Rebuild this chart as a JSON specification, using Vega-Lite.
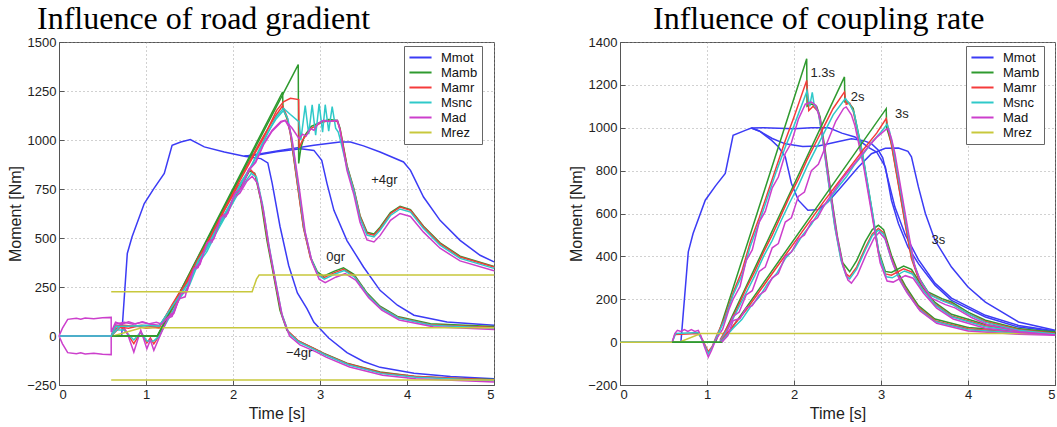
{
"$schema": "https://vega.github.io/schema/vega-lite/v6.json",
"padding": {"left": 7, "top": 2, "right": 0, "bottom": 0},
"config": {
 "font": "Liberation Sans",
 "view": {"stroke": "#555", "strokeWidth": 1},
 "axis": {"labelFont": "Liberation Sans", "labelFontSize": 13, "labelColor": "#222", "titleFont": "Liberation Sans", "titleFontSize": 16, "titleFontWeight": "normal", "titleColor": "#222", "domainColor": "#555", "tickColor": "#555", "tickSize": -5, "labelPadding": 8, "gridColor": "#999", "gridDash": [1, 3], "gridOpacity": 0.9},
 "title": {"font": "Liberation Serif", "fontSize": 32, "fontWeight": "normal", "color": "#000", "anchor": "start", "frame": "group"},
 "legend": {"title": null, "orient": "none", "symbolType": "M-1.7,0H1.7", "symbolSize": 169, "symbolStrokeWidth": 2, "symbolOffset": 5, "labelFontSize": 13, "labelFont": "Liberation Sans", "labelColor": "#111", "fillColor": "white", "strokeColor": "#666", "padding": 4, "rowPadding": 0, "labelOffset": 13},
 "concat": {"spacing": 70}
},
"datasets": {
"road": [
{"c":"m4","s":"Mmot","t":0,"m":0},{"c":"m4","s":"Mmot","t":0.72,"m":0},{"c":"m4","s":"Mmot","t":0.785,"m":421},{"c":"m4","s":"Mmot","t":0.84,"m":506},{"c":"m4","s":"Mmot","t":0.98,"m":676},{"c":"m4","s":"Mmot","t":1.09,"m":752},{"c":"m4","s":"Mmot","t":1.21,"m":829},{"c":"m4","s":"Mmot","t":1.3,"m":973},{"c":"m4","s":"Mmot","t":1.4,"m":990},{"c":"m4","s":"Mmot","t":1.51,"m":1002},{"c":"m4","s":"Mmot","t":1.67,"m":965},{"c":"m4","s":"Mmot","t":1.9,"m":939},{"c":"m4","s":"Mmot","t":2.13,"m":917},{"c":"m4","s":"Mmot","t":2.32,"m":905},{"c":"m4","s":"Mmot","t":2.4,"m":883},{"c":"m4","s":"Mmot","t":2.45,"m":780},{"c":"m4","s":"Mmot","t":2.54,"m":560},{"c":"m4","s":"Mmot","t":2.64,"m":360},{"c":"m4","s":"Mmot","t":2.74,"m":220},{"c":"m4","s":"Mmot","t":2.85,"m":140},{"c":"m4","s":"Mmot","t":2.93,"m":70},{"c":"m4","s":"Mmot","t":3.1,"m":-10},{"c":"m4","s":"Mmot","t":3.31,"m":-85},{"c":"m4","s":"Mmot","t":3.5,"m":-130},{"c":"m4","s":"Mmot","t":3.69,"m":-160},{"c":"m4","s":"Mmot","t":4.08,"m":-190},{"c":"m4","s":"Mmot","t":4.5,"m":-207},{"c":"m4","s":"Mmot","t":5,"m":-218},
{"c":"z","s":"Mmot","t":2.13,"m":917},{"c":"z","s":"Mmot","t":2.3,"m":925},{"c":"z","s":"Mmot","t":2.5,"m":940},{"c":"z","s":"Mmot","t":2.78,"m":955},{"c":"z","s":"Mmot","t":2.93,"m":947},{"c":"z","s":"Mmot","t":3.02,"m":896},{"c":"z","s":"Mmot","t":3.08,"m":779},{"c":"z","s":"Mmot","t":3.16,"m":641},{"c":"z","s":"Mmot","t":3.31,"m":487},{"c":"z","s":"Mmot","t":3.5,"m":352},{"c":"z","s":"Mmot","t":3.69,"m":233},{"c":"z","s":"Mmot","t":3.89,"m":157},{"c":"z","s":"Mmot","t":4.08,"m":106},{"c":"z","s":"Mmot","t":4.46,"m":71},{"c":"z","s":"Mmot","t":5,"m":55},
{"c":"p4","s":"Mmot","t":2.13,"m":917},{"c":"p4","s":"Mmot","t":2.3,"m":928},{"c":"p4","s":"Mmot","t":2.54,"m":947},{"c":"p4","s":"Mmot","t":2.93,"m":973},{"c":"p4","s":"Mmot","t":3.23,"m":990},{"c":"p4","s":"Mmot","t":3.35,"m":990},{"c":"p4","s":"Mmot","t":3.5,"m":970},{"c":"p4","s":"Mmot","t":3.69,"m":939},{"c":"p4","s":"Mmot","t":3.96,"m":888},{"c":"p4","s":"Mmot","t":4.04,"m":845},{"c":"p4","s":"Mmot","t":4.19,"m":709},{"c":"p4","s":"Mmot","t":4.38,"m":590},{"c":"p4","s":"Mmot","t":4.61,"m":488},{"c":"p4","s":"Mmot","t":4.84,"m":412},{"c":"p4","s":"Mmot","t":5,"m":378},
{"c":"m4","s":"Mamb","t":0.6,"m":0},{"c":"m4","s":"Mamb","t":1.13,"m":0},{"c":"m4","s":"Mamb","t":2.19,"m":842},{"c":"m4","s":"Mamb","t":2.25,"m":830},{"c":"m4","s":"Mamb","t":2.32,"m":692},{"c":"m4","s":"Mamb","t":2.39,"m":488},{"c":"m4","s":"Mamb","t":2.47,"m":301},{"c":"m4","s":"Mamb","t":2.54,"m":131},{"c":"m4","s":"Mamb","t":2.62,"m":29},{"c":"m4","s":"Mamb","t":2.74,"m":-22},{"c":"m4","s":"Mamb","t":2.93,"m":-63},{"c":"m4","s":"Mamb","t":3.04,"m":-88},{"c":"m4","s":"Mamb","t":3.31,"m":-139},{"c":"m4","s":"Mamb","t":3.69,"m":-184},{"c":"m4","s":"Mamb","t":4.08,"m":-205},{"c":"m4","s":"Mamb","t":4.5,"m":-215},{"c":"m4","s":"Mamb","t":5,"m":-222},
{"c":"m4","s":"Mamr","t":0.6,"m":0},{"c":"m4","s":"Mamr","t":0.66,"m":40},{"c":"m4","s":"Mamr","t":0.72,"m":45},{"c":"m4","s":"Mamr","t":0.78,"m":15},{"c":"m4","s":"Mamr","t":0.86,"m":-39},{"c":"m4","s":"Mamr","t":0.94,"m":20},{"c":"m4","s":"Mamr","t":1.01,"m":-35},{"c":"m4","s":"Mamr","t":1.05,"m":-10},{"c":"m4","s":"Mamr","t":1.09,"m":-40},{"c":"m4","s":"Mamr","t":1.15,"m":0},{"c":"m4","s":"Mamr","t":1.3,"m":140},{"c":"m4","s":"Mamr","t":1.45,"m":250},{"c":"m4","s":"Mamr","t":1.6,"m":390},{"c":"m4","s":"Mamr","t":1.75,"m":510},{"c":"m4","s":"Mamr","t":1.9,"m":640},{"c":"m4","s":"Mamr","t":2.05,"m":760},{"c":"m4","s":"Mamr","t":2.2,"m":850},{"c":"m4","s":"Mamr","t":2.26,"m":820},{"c":"m4","s":"Mamr","t":2.33,"m":680},{"c":"m4","s":"Mamr","t":2.4,"m":480},{"c":"m4","s":"Mamr","t":2.48,"m":290},{"c":"m4","s":"Mamr","t":2.55,"m":125},{"c":"m4","s":"Mamr","t":2.63,"m":25},{"c":"m4","s":"Mamr","t":2.75,"m":-25},{"c":"m4","s":"Mamr","t":2.94,"m":-66},{"c":"m4","s":"Mamr","t":3.05,"m":-92},{"c":"m4","s":"Mamr","t":3.32,"m":-142},{"c":"m4","s":"Mamr","t":3.7,"m":-187},{"c":"m4","s":"Mamr","t":4.1,"m":-207},{"c":"m4","s":"Mamr","t":5,"m":-224},
{"c":"m4","s":"Msnc","t":0,"m":0},{"c":"m4","s":"Msnc","t":0.6,"m":0},{"c":"m4","s":"Msnc","t":0.66,"m":30},{"c":"m4","s":"Msnc","t":0.75,"m":30},{"c":"m4","s":"Msnc","t":0.86,"m":-20},{"c":"m4","s":"Msnc","t":0.94,"m":20},{"c":"m4","s":"Msnc","t":1.01,"m":-25},{"c":"m4","s":"Msnc","t":1.09,"m":-25},{"c":"m4","s":"Msnc","t":1.15,"m":0},{"c":"m4","s":"Msnc","t":1.3,"m":120},{"c":"m4","s":"Msnc","t":1.4,"m":200},{"c":"m4","s":"Msnc","t":1.5,"m":260},{"c":"m4","s":"Msnc","t":1.6,"m":370},{"c":"m4","s":"Msnc","t":1.7,"m":430},{"c":"m4","s":"Msnc","t":1.8,"m":520},{"c":"m4","s":"Msnc","t":1.9,"m":600},{"c":"m4","s":"Msnc","t":2.0,"m":680},{"c":"m4","s":"Msnc","t":2.1,"m":760},{"c":"m4","s":"Msnc","t":2.21,"m":830},{"c":"m4","s":"Msnc","t":2.27,"m":810},{"c":"m4","s":"Msnc","t":2.34,"m":670},{"c":"m4","s":"Msnc","t":2.41,"m":470},{"c":"m4","s":"Msnc","t":2.49,"m":280},{"c":"m4","s":"Msnc","t":2.56,"m":115},{"c":"m4","s":"Msnc","t":2.64,"m":15},{"c":"m4","s":"Msnc","t":2.76,"m":-32},{"c":"m4","s":"Msnc","t":2.95,"m":-72},{"c":"m4","s":"Msnc","t":3.06,"m":-97},{"c":"m4","s":"Msnc","t":3.33,"m":-148},{"c":"m4","s":"Msnc","t":3.71,"m":-192},{"c":"m4","s":"Msnc","t":4.1,"m":-211},{"c":"m4","s":"Msnc","t":5,"m":-228},
{"c":"m4","s":"Mad","t":0,"m":0},{"c":"m4","s":"Mad","t":0.04,"m":-40},{"c":"m4","s":"Mad","t":0.1,"m":-85},{"c":"m4","s":"Mad","t":0.2,"m":-90},{"c":"m4","s":"Mad","t":0.25,"m":-85},{"c":"m4","s":"Mad","t":0.3,"m":-92},{"c":"m4","s":"Mad","t":0.4,"m":-88},{"c":"m4","s":"Mad","t":0.5,"m":-93},{"c":"m4","s":"Mad","t":0.6,"m":-95},{"c":"m4","s":"Mad","t":0.6,"m":0},{"c":"m4","s":"Mad","t":0.66,"m":50},{"c":"m4","s":"Mad","t":0.72,"m":60},{"c":"m4","s":"Mad","t":0.78,"m":20},{"c":"m4","s":"Mad","t":0.86,"m":-82},{"c":"m4","s":"Mad","t":0.94,"m":30},{"c":"m4","s":"Mad","t":1.01,"m":-65},{"c":"m4","s":"Mad","t":1.05,"m":-20},{"c":"m4","s":"Mad","t":1.09,"m":-73},{"c":"m4","s":"Mad","t":1.15,"m":-10},{"c":"m4","s":"Mad","t":1.25,"m":90},{"c":"m4","s":"Mad","t":1.3,"m":100},{"c":"m4","s":"Mad","t":1.38,"m":190},{"c":"m4","s":"Mad","t":1.45,"m":200},{"c":"m4","s":"Mad","t":1.52,"m":330},{"c":"m4","s":"Mad","t":1.6,"m":350},{"c":"m4","s":"Mad","t":1.68,"m":460},{"c":"m4","s":"Mad","t":1.76,"m":480},{"c":"m4","s":"Mad","t":1.84,"m":590},{"c":"m4","s":"Mad","t":1.92,"m":610},{"c":"m4","s":"Mad","t":2.0,"m":700},{"c":"m4","s":"Mad","t":2.08,"m":730},{"c":"m4","s":"Mad","t":2.16,"m":790},{"c":"m4","s":"Mad","t":2.22,"m":815},{"c":"m4","s":"Mad","t":2.28,"m":780},{"c":"m4","s":"Mad","t":2.35,"m":640},{"c":"m4","s":"Mad","t":2.42,"m":440},{"c":"m4","s":"Mad","t":2.5,"m":250},{"c":"m4","s":"Mad","t":2.57,"m":95},{"c":"m4","s":"Mad","t":2.65,"m":0},{"c":"m4","s":"Mad","t":2.77,"m":-45},{"c":"m4","s":"Mad","t":2.96,"m":-82},{"c":"m4","s":"Mad","t":3.07,"m":-108},{"c":"m4","s":"Mad","t":3.34,"m":-158},{"c":"m4","s":"Mad","t":3.72,"m":-200},{"c":"m4","s":"Mad","t":4.1,"m":-218},{"c":"m4","s":"Mad","t":5,"m":-235},
{"c":"m4","s":"Mrez","t":0.6,"m":-225},{"c":"m4","s":"Mrez","t":5,"m":-225},
{"c":"z","s":"Mamb","t":0.6,"m":0},{"c":"z","s":"Mamb","t":1.13,"m":0},{"c":"z","s":"Mamb","t":2.57,"m":1245},{"c":"z","s":"Mamb","t":2.575,"m":1160},{"c":"z","s":"Mamb","t":2.62,"m":1110},{"c":"z","s":"Mamb","t":2.66,"m":1034},{"c":"z","s":"Mamb","t":2.74,"m":779},{"c":"z","s":"Mamb","t":2.81,"m":556},{"c":"z","s":"Mamb","t":2.89,"m":403},{"c":"z","s":"Mamb","t":2.97,"m":327},{"c":"z","s":"Mamb","t":3.04,"m":305},{"c":"z","s":"Mamb","t":3.16,"m":330},{"c":"z","s":"Mamb","t":3.27,"m":348},{"c":"z","s":"Mamb","t":3.39,"m":315},{"c":"z","s":"Mamb","t":3.54,"m":220},{"c":"z","s":"Mamb","t":3.69,"m":152},{"c":"z","s":"Mamb","t":3.89,"m":100},{"c":"z","s":"Mamb","t":4.27,"m":63},{"c":"z","s":"Mamb","t":5,"m":48},
{"c":"z","s":"Mamr","t":0.6,"m":0},{"c":"z","s":"Mamr","t":0.7,"m":45},{"c":"z","s":"Mamr","t":0.8,"m":40},{"c":"z","s":"Mamr","t":0.9,"m":50},{"c":"z","s":"Mamr","t":1.0,"m":40},{"c":"z","s":"Mamr","t":1.1,"m":45},{"c":"z","s":"Mamr","t":1.15,"m":40},{"c":"z","s":"Mamr","t":1.3,"m":160},{"c":"z","s":"Mamr","t":1.45,"m":270},{"c":"z","s":"Mamr","t":1.6,"m":400},{"c":"z","s":"Mamr","t":1.75,"m":520},{"c":"z","s":"Mamr","t":1.9,"m":650},{"c":"z","s":"Mamr","t":2.05,"m":780},{"c":"z","s":"Mamr","t":2.2,"m":900},{"c":"z","s":"Mamr","t":2.35,"m":1020},{"c":"z","s":"Mamr","t":2.5,"m":1130},{"c":"z","s":"Mamr","t":2.57,"m":1175},{"c":"z","s":"Mamr","t":2.62,"m":1120},{"c":"z","s":"Mamr","t":2.66,"m":1030},{"c":"z","s":"Mamr","t":2.74,"m":775},{"c":"z","s":"Mamr","t":2.81,"m":552},{"c":"z","s":"Mamr","t":2.89,"m":398},{"c":"z","s":"Mamr","t":2.97,"m":318},{"c":"z","s":"Mamr","t":3.04,"m":296},{"c":"z","s":"Mamr","t":3.16,"m":322},{"c":"z","s":"Mamr","t":3.27,"m":340},{"c":"z","s":"Mamr","t":3.39,"m":308},{"c":"z","s":"Mamr","t":3.54,"m":214},{"c":"z","s":"Mamr","t":3.69,"m":147},{"c":"z","s":"Mamr","t":3.89,"m":96},{"c":"z","s":"Mamr","t":4.27,"m":58},{"c":"z","s":"Mamr","t":5,"m":44},
{"c":"z","s":"Msnc","t":0,"m":0},{"c":"z","s":"Msnc","t":0.6,"m":0},{"c":"z","s":"Msnc","t":0.7,"m":50},{"c":"z","s":"Msnc","t":0.9,"m":50},{"c":"z","s":"Msnc","t":1.1,"m":55},{"c":"z","s":"Msnc","t":1.15,"m":50},{"c":"z","s":"Msnc","t":1.3,"m":150},{"c":"z","s":"Msnc","t":1.4,"m":220},{"c":"z","s":"Msnc","t":1.5,"m":280},{"c":"z","s":"Msnc","t":1.6,"m":390},{"c":"z","s":"Msnc","t":1.7,"m":450},{"c":"z","s":"Msnc","t":1.8,"m":540},{"c":"z","s":"Msnc","t":1.9,"m":620},{"c":"z","s":"Msnc","t":2.0,"m":700},{"c":"z","s":"Msnc","t":2.1,"m":790},{"c":"z","s":"Msnc","t":2.2,"m":860},{"c":"z","s":"Msnc","t":2.3,"m":950},{"c":"z","s":"Msnc","t":2.4,"m":1040},{"c":"z","s":"Msnc","t":2.5,"m":1110},{"c":"z","s":"Msnc","t":2.58,"m":1150},{"c":"z","s":"Msnc","t":2.63,"m":1110},{"c":"z","s":"Msnc","t":2.67,"m":1020},{"c":"z","s":"Msnc","t":2.75,"m":770},{"c":"z","s":"Msnc","t":2.82,"m":545},{"c":"z","s":"Msnc","t":2.9,"m":392},{"c":"z","s":"Msnc","t":2.98,"m":310},{"c":"z","s":"Msnc","t":3.05,"m":290},{"c":"z","s":"Msnc","t":3.17,"m":316},{"c":"z","s":"Msnc","t":3.28,"m":334},{"c":"z","s":"Msnc","t":3.4,"m":300},{"c":"z","s":"Msnc","t":3.55,"m":208},{"c":"z","s":"Msnc","t":3.7,"m":142},{"c":"z","s":"Msnc","t":3.9,"m":92},{"c":"z","s":"Msnc","t":4.28,"m":55},{"c":"z","s":"Msnc","t":5,"m":40},
{"c":"z","s":"Mad","t":0,"m":0},{"c":"z","s":"Mad","t":0.6,"m":0},{"c":"z","s":"Mad","t":0.65,"m":60},{"c":"z","s":"Mad","t":0.75,"m":70},{"c":"z","s":"Mad","t":0.85,"m":60},{"c":"z","s":"Mad","t":0.95,"m":70},{"c":"z","s":"Mad","t":1.05,"m":60},{"c":"z","s":"Mad","t":1.15,"m":55},{"c":"z","s":"Mad","t":1.25,"m":100},{"c":"z","s":"Mad","t":1.32,"m":120},{"c":"z","s":"Mad","t":1.4,"m":220},{"c":"z","s":"Mad","t":1.47,"m":230},{"c":"z","s":"Mad","t":1.55,"m":350},{"c":"z","s":"Mad","t":1.62,"m":370},{"c":"z","s":"Mad","t":1.7,"m":480},{"c":"z","s":"Mad","t":1.78,"m":500},{"c":"z","s":"Mad","t":1.86,"m":610},{"c":"z","s":"Mad","t":1.94,"m":630},{"c":"z","s":"Mad","t":2.02,"m":730},{"c":"z","s":"Mad","t":2.1,"m":760},{"c":"z","s":"Mad","t":2.18,"m":850},{"c":"z","s":"Mad","t":2.26,"m":890},{"c":"z","s":"Mad","t":2.35,"m":980},{"c":"z","s":"Mad","t":2.45,"m":1050},{"c":"z","s":"Mad","t":2.55,"m":1095},{"c":"z","s":"Mad","t":2.6,"m":1100},{"c":"z","s":"Mad","t":2.65,"m":1060},{"c":"z","s":"Mad","t":2.68,"m":1000},{"c":"z","s":"Mad","t":2.76,"m":760},{"c":"z","s":"Mad","t":2.83,"m":530},{"c":"z","s":"Mad","t":2.91,"m":375},{"c":"z","s":"Mad","t":2.99,"m":290},{"c":"z","s":"Mad","t":3.06,"m":272},{"c":"z","s":"Mad","t":3.18,"m":300},{"c":"z","s":"Mad","t":3.29,"m":318},{"c":"z","s":"Mad","t":3.41,"m":285},{"c":"z","s":"Mad","t":3.56,"m":195},{"c":"z","s":"Mad","t":3.71,"m":132},{"c":"z","s":"Mad","t":3.91,"m":82},{"c":"z","s":"Mad","t":4.3,"m":47},{"c":"z","s":"Mad","t":5,"m":33},
{"c":"z","s":"Mrez","t":0.62,"m":0},{"c":"z","s":"Mrez","t":0.95,"m":42},{"c":"z","s":"Mrez","t":5,"m":42},
{"c":"p4","s":"Mamb","t":0.6,"m":0},{"c":"p4","s":"Mamb","t":1.13,"m":0},{"c":"p4","s":"Mamb","t":2.75,"m":1385},{"c":"p4","s":"Mamb","t":2.755,"m":880},{"c":"p4","s":"Mamb","t":2.78,"m":960},{"c":"p4","s":"Mamb","t":2.82,"m":1020},{"c":"p4","s":"Mamb","t":2.9,"m":1070},{"c":"p4","s":"Mamb","t":3.0,"m":1090},{"c":"p4","s":"Mamb","t":3.1,"m":1105},{"c":"p4","s":"Mamb","t":3.2,"m":1100},{"c":"p4","s":"Mamb","t":3.23,"m":1060},{"c":"p4","s":"Mamb","t":3.31,"m":870},{"c":"p4","s":"Mamb","t":3.39,"m":750},{"c":"p4","s":"Mamb","t":3.46,"m":615},{"c":"p4","s":"Mamb","t":3.54,"m":530},{"c":"p4","s":"Mamb","t":3.62,"m":520},{"c":"p4","s":"Mamb","t":3.69,"m":555},{"c":"p4","s":"Mamb","t":3.81,"m":630},{"c":"p4","s":"Mamb","t":3.92,"m":662},{"c":"p4","s":"Mamb","t":4.04,"m":645},{"c":"p4","s":"Mamb","t":4.19,"m":560},{"c":"p4","s":"Mamb","t":4.38,"m":475},{"c":"p4","s":"Mamb","t":4.61,"m":407},{"c":"p4","s":"Mamb","t":5,"m":355},
{"c":"p4","s":"Mamr","t":0.6,"m":0},{"c":"p4","s":"Mamr","t":0.65,"m":50},{"c":"p4","s":"Mamr","t":0.75,"m":55},{"c":"p4","s":"Mamr","t":0.85,"m":50},{"c":"p4","s":"Mamr","t":0.95,"m":55},{"c":"p4","s":"Mamr","t":1.05,"m":50},{"c":"p4","s":"Mamr","t":1.15,"m":45},{"c":"p4","s":"Mamr","t":1.3,"m":155},{"c":"p4","s":"Mamr","t":1.45,"m":265},{"c":"p4","s":"Mamr","t":1.6,"m":395},{"c":"p4","s":"Mamr","t":1.75,"m":515},{"c":"p4","s":"Mamr","t":1.9,"m":645},{"c":"p4","s":"Mamr","t":2.05,"m":770},{"c":"p4","s":"Mamr","t":2.2,"m":890},{"c":"p4","s":"Mamr","t":2.35,"m":1010},{"c":"p4","s":"Mamr","t":2.5,"m":1150},{"c":"p4","s":"Mamr","t":2.58,"m":1195},{"c":"p4","s":"Mamr","t":2.66,"m":1213},{"c":"p4","s":"Mamr","t":2.755,"m":1206},{"c":"p4","s":"Mamr","t":2.76,"m":960},{"c":"p4","s":"Mamr","t":2.8,"m":1000},{"c":"p4","s":"Mamr","t":2.9,"m":1060},{"c":"p4","s":"Mamr","t":3.0,"m":1085},{"c":"p4","s":"Mamr","t":3.1,"m":1100},{"c":"p4","s":"Mamr","t":3.2,"m":1095},{"c":"p4","s":"Mamr","t":3.23,"m":1055},{"c":"p4","s":"Mamr","t":3.31,"m":865},{"c":"p4","s":"Mamr","t":3.39,"m":745},{"c":"p4","s":"Mamr","t":3.46,"m":610},{"c":"p4","s":"Mamr","t":3.54,"m":524},{"c":"p4","s":"Mamr","t":3.62,"m":514},{"c":"p4","s":"Mamr","t":3.69,"m":548},{"c":"p4","s":"Mamr","t":3.81,"m":624},{"c":"p4","s":"Mamr","t":3.92,"m":658},{"c":"p4","s":"Mamr","t":4.04,"m":641},{"c":"p4","s":"Mamr","t":4.19,"m":556},{"c":"p4","s":"Mamr","t":4.38,"m":471},{"c":"p4","s":"Mamr","t":4.61,"m":403},{"c":"p4","s":"Mamr","t":5,"m":352},
{"c":"p4","s":"Msnc","t":0,"m":0},{"c":"p4","s":"Msnc","t":0.6,"m":0},{"c":"p4","s":"Msnc","t":0.65,"m":50},{"c":"p4","s":"Msnc","t":0.8,"m":50},{"c":"p4","s":"Msnc","t":1.0,"m":55},{"c":"p4","s":"Msnc","t":1.15,"m":50},{"c":"p4","s":"Msnc","t":1.3,"m":150},{"c":"p4","s":"Msnc","t":1.4,"m":215},{"c":"p4","s":"Msnc","t":1.5,"m":275},{"c":"p4","s":"Msnc","t":1.6,"m":385},{"c":"p4","s":"Msnc","t":1.7,"m":445},{"c":"p4","s":"Msnc","t":1.8,"m":535},{"c":"p4","s":"Msnc","t":1.9,"m":615},{"c":"p4","s":"Msnc","t":2.0,"m":695},{"c":"p4","s":"Msnc","t":2.1,"m":785},{"c":"p4","s":"Msnc","t":2.2,"m":855},{"c":"p4","s":"Msnc","t":2.3,"m":945},{"c":"p4","s":"Msnc","t":2.4,"m":1035},{"c":"p4","s":"Msnc","t":2.5,"m":1120},{"c":"p4","s":"Msnc","t":2.58,"m":1162},{"c":"p4","s":"Msnc","t":2.66,"m":1130},{"c":"p4","s":"Msnc","t":2.76,"m":1092},{"c":"p4","s":"Msnc","t":2.78,"m":1000},{"c":"p4","s":"Msnc","t":2.83,"m":1175},{"c":"p4","s":"Msnc","t":2.87,"m":1030},{"c":"p4","s":"Msnc","t":2.91,"m":1180},{"c":"p4","s":"Msnc","t":2.95,"m":1025},{"c":"p4","s":"Msnc","t":2.99,"m":1185},{"c":"p4","s":"Msnc","t":3.03,"m":1040},{"c":"p4","s":"Msnc","t":3.06,"m":1180},{"c":"p4","s":"Msnc","t":3.1,"m":1045},{"c":"p4","s":"Msnc","t":3.14,"m":1170},{"c":"p4","s":"Msnc","t":3.18,"m":1060},{"c":"p4","s":"Msnc","t":3.21,"m":1040},{"c":"p4","s":"Msnc","t":3.24,"m":990},{"c":"p4","s":"Msnc","t":3.31,"m":860},{"c":"p4","s":"Msnc","t":3.39,"m":740},{"c":"p4","s":"Msnc","t":3.46,"m":600},{"c":"p4","s":"Msnc","t":3.54,"m":515},{"c":"p4","s":"Msnc","t":3.62,"m":505},{"c":"p4","s":"Msnc","t":3.69,"m":540},{"c":"p4","s":"Msnc","t":3.81,"m":615},{"c":"p4","s":"Msnc","t":3.92,"m":648},{"c":"p4","s":"Msnc","t":4.04,"m":632},{"c":"p4","s":"Msnc","t":4.19,"m":548},{"c":"p4","s":"Msnc","t":4.38,"m":463},{"c":"p4","s":"Msnc","t":4.61,"m":396},{"c":"p4","s":"Msnc","t":5,"m":345},
{"c":"p4","s":"Mad","t":0,"m":0},{"c":"p4","s":"Mad","t":0.04,"m":40},{"c":"p4","s":"Mad","t":0.1,"m":85},{"c":"p4","s":"Mad","t":0.2,"m":90},{"c":"p4","s":"Mad","t":0.25,"m":86},{"c":"p4","s":"Mad","t":0.3,"m":92},{"c":"p4","s":"Mad","t":0.4,"m":88},{"c":"p4","s":"Mad","t":0.5,"m":93},{"c":"p4","s":"Mad","t":0.6,"m":95},{"c":"p4","s":"Mad","t":0.6,"m":20},{"c":"p4","s":"Mad","t":0.65,"m":70},{"c":"p4","s":"Mad","t":0.72,"m":60},{"c":"p4","s":"Mad","t":0.8,"m":72},{"c":"p4","s":"Mad","t":0.88,"m":62},{"c":"p4","s":"Mad","t":0.96,"m":72},{"c":"p4","s":"Mad","t":1.04,"m":62},{"c":"p4","s":"Mad","t":1.12,"m":70},{"c":"p4","s":"Mad","t":1.18,"m":60},{"c":"p4","s":"Mad","t":1.25,"m":95},{"c":"p4","s":"Mad","t":1.32,"m":115},{"c":"p4","s":"Mad","t":1.4,"m":215},{"c":"p4","s":"Mad","t":1.47,"m":225},{"c":"p4","s":"Mad","t":1.55,"m":345},{"c":"p4","s":"Mad","t":1.62,"m":365},{"c":"p4","s":"Mad","t":1.7,"m":475},{"c":"p4","s":"Mad","t":1.78,"m":495},{"c":"p4","s":"Mad","t":1.86,"m":605},{"c":"p4","s":"Mad","t":1.94,"m":625},{"c":"p4","s":"Mad","t":2.02,"m":725},{"c":"p4","s":"Mad","t":2.1,"m":755},{"c":"p4","s":"Mad","t":2.18,"m":845},{"c":"p4","s":"Mad","t":2.26,"m":885},{"c":"p4","s":"Mad","t":2.35,"m":975},{"c":"p4","s":"Mad","t":2.45,"m":1045},{"c":"p4","s":"Mad","t":2.55,"m":1090},{"c":"p4","s":"Mad","t":2.6,"m":1100},{"c":"p4","s":"Mad","t":2.68,"m":1060},{"c":"p4","s":"Mad","t":2.76,"m":1007},{"c":"p4","s":"Mad","t":2.8,"m":1030},{"c":"p4","s":"Mad","t":2.84,"m":1020},{"c":"p4","s":"Mad","t":2.89,"m":1058},{"c":"p4","s":"Mad","t":2.93,"m":1050},{"c":"p4","s":"Mad","t":2.98,"m":1085},{"c":"p4","s":"Mad","t":3.04,"m":1100},{"c":"p4","s":"Mad","t":3.1,"m":1095},{"c":"p4","s":"Mad","t":3.2,"m":1100},{"c":"p4","s":"Mad","t":3.23,"m":1050},{"c":"p4","s":"Mad","t":3.31,"m":845},{"c":"p4","s":"Mad","t":3.39,"m":720},{"c":"p4","s":"Mad","t":3.46,"m":580},{"c":"p4","s":"Mad","t":3.54,"m":490},{"c":"p4","s":"Mad","t":3.62,"m":480},{"c":"p4","s":"Mad","t":3.69,"m":512},{"c":"p4","s":"Mad","t":3.81,"m":590},{"c":"p4","s":"Mad","t":3.92,"m":625},{"c":"p4","s":"Mad","t":4.04,"m":610},{"c":"p4","s":"Mad","t":4.19,"m":530},{"c":"p4","s":"Mad","t":4.38,"m":448},{"c":"p4","s":"Mad","t":4.61,"m":383},{"c":"p4","s":"Mad","t":5,"m":333},
{"c":"p4","s":"Mrez","t":0.6,"m":226},{"c":"p4","s":"Mrez","t":2.22,"m":226},{"c":"p4","s":"Mrez","t":2.27,"m":290},{"c":"p4","s":"Mrez","t":2.3,"m":311},{"c":"p4","s":"Mrez","t":5,"m":311}
],
"coup": [
{"c":"a","s":"Mmot","t":0,"m":0},{"c":"a","s":"Mmot","t":0.7,"m":0},{"c":"a","s":"Mmot","t":0.785,"m":421},{"c":"a","s":"Mmot","t":0.84,"m":507},{"c":"a","s":"Mmot","t":0.98,"m":662},{"c":"a","s":"Mmot","t":1.1,"m":730},{"c":"a","s":"Mmot","t":1.21,"m":787},{"c":"a","s":"Mmot","t":1.3,"m":965},{"c":"a","s":"Mmot","t":1.44,"m":988},{"c":"a","s":"Mmot","t":1.51,"m":999},{"c":"a","s":"Mmot","t":1.65,"m":1000},{"c":"a","s":"Mmot","t":2.0,"m":995},{"c":"a","s":"Mmot","t":2.2,"m":1000},{"c":"a","s":"Mmot","t":2.4,"m":1000},{"c":"a","s":"Mmot","t":2.55,"m":975},{"c":"a","s":"Mmot","t":2.7,"m":957},{"c":"a","s":"Mmot","t":2.85,"m":910},{"c":"a","s":"Mmot","t":2.95,"m":887},{"c":"a","s":"Mmot","t":3.05,"m":817},{"c":"a","s":"Mmot","t":3.12,"m":662},{"c":"a","s":"Mmot","t":3.2,"m":553},{"c":"a","s":"Mmot","t":3.31,"m":444},{"c":"a","s":"Mmot","t":3.43,"m":366},{"c":"a","s":"Mmot","t":3.62,"m":265},{"c":"a","s":"Mmot","t":3.81,"m":195},{"c":"a","s":"Mmot","t":4.2,"m":117},{"c":"a","s":"Mmot","t":4.58,"m":70},{"c":"a","s":"Mmot","t":5,"m":50},
{"c":"b","s":"Mmot","t":1.51,"m":999},{"c":"b","s":"Mmot","t":1.6,"m":985},{"c":"b","s":"Mmot","t":1.75,"m":950},{"c":"b","s":"Mmot","t":1.9,"m":925},{"c":"b","s":"Mmot","t":2.1,"m":912},{"c":"b","s":"Mmot","t":2.28,"m":915},{"c":"b","s":"Mmot","t":2.5,"m":935},{"c":"b","s":"Mmot","t":2.66,"m":949},{"c":"b","s":"Mmot","t":2.8,"m":940},{"c":"b","s":"Mmot","t":2.89,"m":926},{"c":"b","s":"Mmot","t":2.97,"m":895},{"c":"b","s":"Mmot","t":3.02,"m":860},{"c":"b","s":"Mmot","t":3.08,"m":760},{"c":"b","s":"Mmot","t":3.16,"m":630},{"c":"b","s":"Mmot","t":3.28,"m":500},{"c":"b","s":"Mmot","t":3.43,"m":385},{"c":"b","s":"Mmot","t":3.62,"m":275},{"c":"b","s":"Mmot","t":3.81,"m":205},{"c":"b","s":"Mmot","t":4.2,"m":125},{"c":"b","s":"Mmot","t":4.58,"m":78},{"c":"b","s":"Mmot","t":5,"m":52},
{"c":"c","s":"Mmot","t":1.51,"m":999},{"c":"c","s":"Mmot","t":1.6,"m":985},{"c":"c","s":"Mmot","t":1.74,"m":942},{"c":"c","s":"Mmot","t":1.82,"m":911},{"c":"c","s":"Mmot","t":1.9,"m":864},{"c":"c","s":"Mmot","t":1.97,"m":741},{"c":"c","s":"Mmot","t":2.05,"m":662},{"c":"c","s":"Mmot","t":2.16,"m":615},{"c":"c","s":"Mmot","t":2.28,"m":618},{"c":"c","s":"Mmot","t":2.39,"m":654},{"c":"c","s":"Mmot","t":2.51,"m":708},{"c":"c","s":"Mmot","t":2.74,"m":817},{"c":"c","s":"Mmot","t":2.89,"m":879},{"c":"c","s":"Mmot","t":3.05,"m":904},{"c":"c","s":"Mmot","t":3.2,"m":905},{"c":"c","s":"Mmot","t":3.31,"m":890},{"c":"c","s":"Mmot","t":3.35,"m":864},{"c":"c","s":"Mmot","t":3.43,"m":724},{"c":"c","s":"Mmot","t":3.51,"m":600},{"c":"c","s":"Mmot","t":3.62,"m":475},{"c":"c","s":"Mmot","t":3.81,"m":350},{"c":"c","s":"Mmot","t":4.0,"m":257},{"c":"c","s":"Mmot","t":4.2,"m":187},{"c":"c","s":"Mmot","t":4.58,"m":94},{"c":"c","s":"Mmot","t":5,"m":55},
{"c":"a","s":"Mamb","t":0.6,"m":0},{"c":"a","s":"Mamb","t":1.1,"m":0},{"c":"a","s":"Mamb","t":2.146,"m":1322},{"c":"a","s":"Mamb","t":2.15,"m":1100},{"c":"a","s":"Mamb","t":2.2,"m":1110},{"c":"a","s":"Mamb","t":2.26,"m":1100},{"c":"a","s":"Mamb","t":2.3,"m":1050},{"c":"a","s":"Mamb","t":2.36,"m":890},{"c":"a","s":"Mamb","t":2.43,"m":680},{"c":"a","s":"Mamb","t":2.5,"m":490},{"c":"a","s":"Mamb","t":2.56,"m":370},{"c":"a","s":"Mamb","t":2.64,"m":328},{"c":"a","s":"Mamb","t":2.72,"m":380},{"c":"a","s":"Mamb","t":2.82,"m":470},{"c":"a","s":"Mamb","t":2.9,"m":525},{"c":"a","s":"Mamb","t":2.97,"m":545},{"c":"a","s":"Mamb","t":3.03,"m":525},{"c":"a","s":"Mamb","t":3.12,"m":405},{"c":"a","s":"Mamb","t":3.2,"m":322},{"c":"a","s":"Mamb","t":3.28,"m":262},{"c":"a","s":"Mamb","t":3.43,"m":170},{"c":"a","s":"Mamb","t":3.62,"m":108},{"c":"a","s":"Mamb","t":4.0,"m":68},{"c":"a","s":"Mamb","t":4.58,"m":50},{"c":"a","s":"Mamb","t":5,"m":45},
{"c":"a","s":"Mamr","t":0.6,"m":0},{"c":"a","s":"Mamr","t":0.63,"m":35},{"c":"a","s":"Mamr","t":0.9,"m":40},{"c":"a","s":"Mamr","t":0.95,"m":10},{"c":"a","s":"Mamr","t":1.015,"m":-45},{"c":"a","s":"Mamr","t":1.06,"m":-20},{"c":"a","s":"Mamr","t":1.1,"m":20},{"c":"a","s":"Mamr","t":1.2,"m":110},{"c":"a","s":"Mamr","t":1.3,"m":230},{"c":"a","s":"Mamr","t":1.4,"m":330},{"c":"a","s":"Mamr","t":1.5,"m":470},{"c":"a","s":"Mamr","t":1.6,"m":580},{"c":"a","s":"Mamr","t":1.7,"m":700},{"c":"a","s":"Mamr","t":1.8,"m":820},{"c":"a","s":"Mamr","t":1.9,"m":940},{"c":"a","s":"Mamr","t":2.0,"m":1050},{"c":"a","s":"Mamr","t":2.146,"m":1221},{"c":"a","s":"Mamr","t":2.17,"m":1080},{"c":"a","s":"Mamr","t":2.22,"m":1100},{"c":"a","s":"Mamr","t":2.28,"m":1075},{"c":"a","s":"Mamr","t":2.33,"m":950},{"c":"a","s":"Mamr","t":2.4,"m":740},{"c":"a","s":"Mamr","t":2.47,"m":540},{"c":"a","s":"Mamr","t":2.54,"m":390},{"c":"a","s":"Mamr","t":2.6,"m":318},{"c":"a","s":"Mamr","t":2.64,"m":305},{"c":"a","s":"Mamr","t":2.72,"m":350},{"c":"a","s":"Mamr","t":2.82,"m":440},{"c":"a","s":"Mamr","t":2.9,"m":505},{"c":"a","s":"Mamr","t":2.97,"m":530},{"c":"a","s":"Mamr","t":3.03,"m":510},{"c":"a","s":"Mamr","t":3.12,"m":392},{"c":"a","s":"Mamr","t":3.2,"m":312},{"c":"a","s":"Mamr","t":3.28,"m":252},{"c":"a","s":"Mamr","t":3.43,"m":162},{"c":"a","s":"Mamr","t":3.62,"m":100},{"c":"a","s":"Mamr","t":4.0,"m":62},{"c":"a","s":"Mamr","t":4.58,"m":45},{"c":"a","s":"Mamr","t":5,"m":40},
{"c":"a","s":"Msnc","t":0,"m":0},{"c":"a","s":"Msnc","t":0.6,"m":0},{"c":"a","s":"Msnc","t":0.64,"m":40},{"c":"a","s":"Msnc","t":0.9,"m":45},{"c":"a","s":"Msnc","t":0.95,"m":5},{"c":"a","s":"Msnc","t":1.015,"m":-55},{"c":"a","s":"Msnc","t":1.06,"m":-25},{"c":"a","s":"Msnc","t":1.1,"m":15},{"c":"a","s":"Msnc","t":1.2,"m":100},{"c":"a","s":"Msnc","t":1.3,"m":220},{"c":"a","s":"Msnc","t":1.4,"m":310},{"c":"a","s":"Msnc","t":1.5,"m":450},{"c":"a","s":"Msnc","t":1.6,"m":560},{"c":"a","s":"Msnc","t":1.7,"m":680},{"c":"a","s":"Msnc","t":1.8,"m":800},{"c":"a","s":"Msnc","t":1.9,"m":910},{"c":"a","s":"Msnc","t":2.0,"m":1010},{"c":"a","s":"Msnc","t":2.15,"m":1172},{"c":"a","s":"Msnc","t":2.18,"m":1100},{"c":"a","s":"Msnc","t":2.21,"m":1165},{"c":"a","s":"Msnc","t":2.23,"m":1110},{"c":"a","s":"Msnc","t":2.28,"m":1072},{"c":"a","s":"Msnc","t":2.33,"m":945},{"c":"a","s":"Msnc","t":2.4,"m":735},{"c":"a","s":"Msnc","t":2.47,"m":535},{"c":"a","s":"Msnc","t":2.54,"m":382},{"c":"a","s":"Msnc","t":2.6,"m":308},{"c":"a","s":"Msnc","t":2.64,"m":295},{"c":"a","s":"Msnc","t":2.72,"m":340},{"c":"a","s":"Msnc","t":2.82,"m":430},{"c":"a","s":"Msnc","t":2.9,"m":497},{"c":"a","s":"Msnc","t":2.97,"m":522},{"c":"a","s":"Msnc","t":3.03,"m":503},{"c":"a","s":"Msnc","t":3.12,"m":385},{"c":"a","s":"Msnc","t":3.2,"m":305},{"c":"a","s":"Msnc","t":3.28,"m":246},{"c":"a","s":"Msnc","t":3.43,"m":157},{"c":"a","s":"Msnc","t":3.62,"m":96},{"c":"a","s":"Msnc","t":4.0,"m":58},{"c":"a","s":"Msnc","t":4.58,"m":42},{"c":"a","s":"Msnc","t":5,"m":37},
{"c":"a","s":"Mad","t":0.6,"m":0},{"c":"a","s":"Mad","t":0.63,"m":40},{"c":"a","s":"Mad","t":0.66,"m":55},{"c":"a","s":"Mad","t":0.7,"m":50},{"c":"a","s":"Mad","t":0.74,"m":58},{"c":"a","s":"Mad","t":0.78,"m":50},{"c":"a","s":"Mad","t":0.82,"m":58},{"c":"a","s":"Mad","t":0.86,"m":50},{"c":"a","s":"Mad","t":0.9,"m":55},{"c":"a","s":"Mad","t":0.93,"m":30},{"c":"a","s":"Mad","t":0.97,"m":-20},{"c":"a","s":"Mad","t":1.015,"m":-70},{"c":"a","s":"Mad","t":1.05,"m":-40},{"c":"a","s":"Mad","t":1.1,"m":10},{"c":"a","s":"Mad","t":1.18,"m":60},{"c":"a","s":"Mad","t":1.25,"m":150},{"c":"a","s":"Mad","t":1.3,"m":200},{"c":"a","s":"Mad","t":1.38,"m":260},{"c":"a","s":"Mad","t":1.45,"m":380},{"c":"a","s":"Mad","t":1.52,"m":430},{"c":"a","s":"Mad","t":1.6,"m":560},{"c":"a","s":"Mad","t":1.67,"m":610},{"c":"a","s":"Mad","t":1.75,"m":720},{"c":"a","s":"Mad","t":1.82,"m":770},{"c":"a","s":"Mad","t":1.9,"m":880},{"c":"a","s":"Mad","t":1.97,"m":930},{"c":"a","s":"Mad","t":2.05,"m":1040},{"c":"a","s":"Mad","t":2.13,"m":1110},{"c":"a","s":"Mad","t":2.2,"m":1120},{"c":"a","s":"Mad","t":2.25,"m":1105},{"c":"a","s":"Mad","t":2.3,"m":1040},{"c":"a","s":"Mad","t":2.35,"m":900},{"c":"a","s":"Mad","t":2.42,"m":700},{"c":"a","s":"Mad","t":2.49,"m":505},{"c":"a","s":"Mad","t":2.56,"m":360},{"c":"a","s":"Mad","t":2.62,"m":290},{"c":"a","s":"Mad","t":2.66,"m":275},{"c":"a","s":"Mad","t":2.73,"m":315},{"c":"a","s":"Mad","t":2.83,"m":410},{"c":"a","s":"Mad","t":2.92,"m":485},{"c":"a","s":"Mad","t":2.98,"m":512},{"c":"a","s":"Mad","t":3.05,"m":480},{"c":"a","s":"Mad","t":3.14,"m":362},{"c":"a","s":"Mad","t":3.22,"m":285},{"c":"a","s":"Mad","t":3.3,"m":230},{"c":"a","s":"Mad","t":3.45,"m":145},{"c":"a","s":"Mad","t":3.64,"m":88},{"c":"a","s":"Mad","t":4.0,"m":52},{"c":"a","s":"Mad","t":4.58,"m":37},{"c":"a","s":"Mad","t":5,"m":32},
{"c":"a","s":"Mrez","t":0,"m":0},{"c":"a","s":"Mrez","t":0.68,"m":0},{"c":"a","s":"Mrez","t":0.93,"m":40},{"c":"a","s":"Mrez","t":5,"m":40},
{"c":"b","s":"Mamb","t":0.6,"m":0},{"c":"b","s":"Mamb","t":1.15,"m":0},{"c":"b","s":"Mamb","t":2.58,"m":1237},{"c":"b","s":"Mamb","t":2.585,"m":1120},{"c":"b","s":"Mamb","t":2.62,"m":1120},{"c":"b","s":"Mamb","t":2.68,"m":1090},{"c":"b","s":"Mamb","t":2.78,"m":895},{"c":"b","s":"Mamb","t":2.89,"m":630},{"c":"b","s":"Mamb","t":2.97,"m":428},{"c":"b","s":"Mamb","t":3.05,"m":330},{"c":"b","s":"Mamb","t":3.12,"m":325},{"c":"b","s":"Mamb","t":3.26,"m":355},{"c":"b","s":"Mamb","t":3.35,"m":340},{"c":"b","s":"Mamb","t":3.47,"m":262},{"c":"b","s":"Mamb","t":3.62,"m":185},{"c":"b","s":"Mamb","t":3.81,"m":130},{"c":"b","s":"Mamb","t":4.2,"m":82},{"c":"b","s":"Mamb","t":4.58,"m":58},{"c":"b","s":"Mamb","t":5,"m":48},
{"c":"b","s":"Mamr","t":1.15,"m":10},{"c":"b","s":"Mamr","t":1.25,"m":80},{"c":"b","s":"Mamr","t":1.35,"m":160},{"c":"b","s":"Mamr","t":1.45,"m":250},{"c":"b","s":"Mamr","t":1.55,"m":330},{"c":"b","s":"Mamr","t":1.65,"m":420},{"c":"b","s":"Mamr","t":1.75,"m":500},{"c":"b","s":"Mamr","t":1.85,"m":590},{"c":"b","s":"Mamr","t":1.95,"m":680},{"c":"b","s":"Mamr","t":2.05,"m":760},{"c":"b","s":"Mamr","t":2.15,"m":850},{"c":"b","s":"Mamr","t":2.25,"m":930},{"c":"b","s":"Mamr","t":2.35,"m":1010},{"c":"b","s":"Mamr","t":2.45,"m":1090},{"c":"b","s":"Mamr","t":2.58,"m":1167},{"c":"b","s":"Mamr","t":2.6,"m":1110},{"c":"b","s":"Mamr","t":2.64,"m":1115},{"c":"b","s":"Mamr","t":2.68,"m":1080},{"c":"b","s":"Mamr","t":2.78,"m":885},{"c":"b","s":"Mamr","t":2.89,"m":620},{"c":"b","s":"Mamr","t":2.97,"m":418},{"c":"b","s":"Mamr","t":3.05,"m":318},{"c":"b","s":"Mamr","t":3.12,"m":312},{"c":"b","s":"Mamr","t":3.26,"m":342},{"c":"b","s":"Mamr","t":3.35,"m":328},{"c":"b","s":"Mamr","t":3.47,"m":252},{"c":"b","s":"Mamr","t":3.62,"m":177},{"c":"b","s":"Mamr","t":3.81,"m":122},{"c":"b","s":"Mamr","t":4.2,"m":76},{"c":"b","s":"Mamr","t":4.58,"m":53},{"c":"b","s":"Mamr","t":5,"m":43},
{"c":"b","s":"Msnc","t":1.15,"m":5},{"c":"b","s":"Msnc","t":1.25,"m":70},{"c":"b","s":"Msnc","t":1.35,"m":150},{"c":"b","s":"Msnc","t":1.45,"m":230},{"c":"b","s":"Msnc","t":1.55,"m":310},{"c":"b","s":"Msnc","t":1.65,"m":400},{"c":"b","s":"Msnc","t":1.75,"m":475},{"c":"b","s":"Msnc","t":1.85,"m":565},{"c":"b","s":"Msnc","t":1.95,"m":650},{"c":"b","s":"Msnc","t":2.05,"m":730},{"c":"b","s":"Msnc","t":2.15,"m":820},{"c":"b","s":"Msnc","t":2.25,"m":900},{"c":"b","s":"Msnc","t":2.35,"m":980},{"c":"b","s":"Msnc","t":2.45,"m":1060},{"c":"b","s":"Msnc","t":2.59,"m":1136},{"c":"b","s":"Msnc","t":2.64,"m":1110},{"c":"b","s":"Msnc","t":2.69,"m":1070},{"c":"b","s":"Msnc","t":2.79,"m":875},{"c":"b","s":"Msnc","t":2.9,"m":610},{"c":"b","s":"Msnc","t":2.98,"m":405},{"c":"b","s":"Msnc","t":3.06,"m":305},{"c":"b","s":"Msnc","t":3.13,"m":300},{"c":"b","s":"Msnc","t":3.27,"m":332},{"c":"b","s":"Msnc","t":3.36,"m":318},{"c":"b","s":"Msnc","t":3.48,"m":244},{"c":"b","s":"Msnc","t":3.63,"m":170},{"c":"b","s":"Msnc","t":3.82,"m":117},{"c":"b","s":"Msnc","t":4.2,"m":72},{"c":"b","s":"Msnc","t":4.58,"m":50},{"c":"b","s":"Msnc","t":5,"m":40},
{"c":"b","s":"Mad","t":1.15,"m":0},{"c":"b","s":"Mad","t":1.22,"m":40},{"c":"b","s":"Mad","t":1.3,"m":120},{"c":"b","s":"Mad","t":1.37,"m":140},{"c":"b","s":"Mad","t":1.45,"m":220},{"c":"b","s":"Mad","t":1.52,"m":240},{"c":"b","s":"Mad","t":1.6,"m":330},{"c":"b","s":"Mad","t":1.67,"m":350},{"c":"b","s":"Mad","t":1.75,"m":440},{"c":"b","s":"Mad","t":1.82,"m":460},{"c":"b","s":"Mad","t":1.9,"m":560},{"c":"b","s":"Mad","t":1.97,"m":580},{"c":"b","s":"Mad","t":2.05,"m":680},{"c":"b","s":"Mad","t":2.12,"m":700},{"c":"b","s":"Mad","t":2.2,"m":800},{"c":"b","s":"Mad","t":2.28,"m":830},{"c":"b","s":"Mad","t":2.38,"m":930},{"c":"b","s":"Mad","t":2.48,"m":1030},{"c":"b","s":"Mad","t":2.57,"m":1090},{"c":"b","s":"Mad","t":2.6,"m":1097},{"c":"b","s":"Mad","t":2.66,"m":1060},{"c":"b","s":"Mad","t":2.7,"m":1010},{"c":"b","s":"Mad","t":2.8,"m":820},{"c":"b","s":"Mad","t":2.91,"m":560},{"c":"b","s":"Mad","t":2.99,"m":370},{"c":"b","s":"Mad","t":3.07,"m":285},{"c":"b","s":"Mad","t":3.14,"m":280},{"c":"b","s":"Mad","t":3.28,"m":310},{"c":"b","s":"Mad","t":3.37,"m":298},{"c":"b","s":"Mad","t":3.49,"m":228},{"c":"b","s":"Mad","t":3.64,"m":158},{"c":"b","s":"Mad","t":3.83,"m":108},{"c":"b","s":"Mad","t":4.2,"m":65},{"c":"b","s":"Mad","t":4.58,"m":45},{"c":"b","s":"Mad","t":5,"m":35},
{"c":"c","s":"Mamb","t":0.6,"m":0},{"c":"c","s":"Mamb","t":1.17,"m":0},{"c":"c","s":"Mamb","t":3.06,"m":1089},{"c":"c","s":"Mamb","t":3.065,"m":1000},{"c":"c","s":"Mamb","t":3.12,"m":926},{"c":"c","s":"Mamb","t":3.2,"m":741},{"c":"c","s":"Mamb","t":3.28,"m":553},{"c":"c","s":"Mamb","t":3.35,"m":397},{"c":"c","s":"Mamb","t":3.43,"m":304},{"c":"c","s":"Mamb","t":3.54,"m":234},{"c":"c","s":"Mamb","t":3.7,"m":203},{"c":"c","s":"Mamb","t":3.81,"m":187},{"c":"c","s":"Mamb","t":4.0,"m":140},{"c":"c","s":"Mamb","t":4.2,"m":102},{"c":"c","s":"Mamb","t":4.58,"m":63},{"c":"c","s":"Mamb","t":5,"m":45},
{"c":"c","s":"Mamr","t":1.17,"m":10},{"c":"c","s":"Mamr","t":1.3,"m":75},{"c":"c","s":"Mamr","t":1.45,"m":150},{"c":"c","s":"Mamr","t":1.6,"m":235},{"c":"c","s":"Mamr","t":1.75,"m":320},{"c":"c","s":"Mamr","t":1.9,"m":405},{"c":"c","s":"Mamr","t":2.05,"m":490},{"c":"c","s":"Mamr","t":2.2,"m":575},{"c":"c","s":"Mamr","t":2.35,"m":660},{"c":"c","s":"Mamr","t":2.5,"m":740},{"c":"c","s":"Mamr","t":2.65,"m":820},{"c":"c","s":"Mamr","t":2.8,"m":900},{"c":"c","s":"Mamr","t":2.95,"m":975},{"c":"c","s":"Mamr","t":3.06,"m":1043},{"c":"c","s":"Mamr","t":3.08,"m":1000},{"c":"c","s":"Mamr","t":3.12,"m":920},{"c":"c","s":"Mamr","t":3.2,"m":735},{"c":"c","s":"Mamr","t":3.28,"m":546},{"c":"c","s":"Mamr","t":3.35,"m":390},{"c":"c","s":"Mamr","t":3.43,"m":297},{"c":"c","s":"Mamr","t":3.54,"m":227},{"c":"c","s":"Mamr","t":3.7,"m":196},{"c":"c","s":"Mamr","t":3.81,"m":180},{"c":"c","s":"Mamr","t":4.0,"m":133},{"c":"c","s":"Mamr","t":4.2,"m":96},{"c":"c","s":"Mamr","t":4.58,"m":58},{"c":"c","s":"Mamr","t":5,"m":41},
{"c":"c","s":"Msnc","t":1.17,"m":5},{"c":"c","s":"Msnc","t":1.3,"m":65},{"c":"c","s":"Msnc","t":1.4,"m":105},{"c":"c","s":"Msnc","t":1.5,"m":165},{"c":"c","s":"Msnc","t":1.6,"m":210},{"c":"c","s":"Msnc","t":1.7,"m":275},{"c":"c","s":"Msnc","t":1.8,"m":320},{"c":"c","s":"Msnc","t":1.9,"m":390},{"c":"c","s":"Msnc","t":2.0,"m":435},{"c":"c","s":"Msnc","t":2.1,"m":500},{"c":"c","s":"Msnc","t":2.2,"m":550},{"c":"c","s":"Msnc","t":2.3,"m":615},{"c":"c","s":"Msnc","t":2.4,"m":660},{"c":"c","s":"Msnc","t":2.5,"m":720},{"c":"c","s":"Msnc","t":2.6,"m":770},{"c":"c","s":"Msnc","t":2.7,"m":830},{"c":"c","s":"Msnc","t":2.8,"m":880},{"c":"c","s":"Msnc","t":2.9,"m":935},{"c":"c","s":"Msnc","t":3.0,"m":980},{"c":"c","s":"Msnc","t":3.07,"m":1016},{"c":"c","s":"Msnc","t":3.1,"m":980},{"c":"c","s":"Msnc","t":3.14,"m":905},{"c":"c","s":"Msnc","t":3.22,"m":720},{"c":"c","s":"Msnc","t":3.3,"m":530},{"c":"c","s":"Msnc","t":3.37,"m":378},{"c":"c","s":"Msnc","t":3.45,"m":288},{"c":"c","s":"Msnc","t":3.56,"m":220},{"c":"c","s":"Msnc","t":3.72,"m":190},{"c":"c","s":"Msnc","t":3.83,"m":174},{"c":"c","s":"Msnc","t":4.02,"m":128},{"c":"c","s":"Msnc","t":4.2,"m":92},{"c":"c","s":"Msnc","t":4.58,"m":55},{"c":"c","s":"Msnc","t":5,"m":38},
{"c":"c","s":"Mad","t":1.17,"m":0},{"c":"c","s":"Mad","t":1.24,"m":30},{"c":"c","s":"Mad","t":1.3,"m":100},{"c":"c","s":"Mad","t":1.38,"m":110},{"c":"c","s":"Mad","t":1.45,"m":160},{"c":"c","s":"Mad","t":1.52,"m":170},{"c":"c","s":"Mad","t":1.6,"m":220},{"c":"c","s":"Mad","t":1.67,"m":240},{"c":"c","s":"Mad","t":1.75,"m":300},{"c":"c","s":"Mad","t":1.82,"m":320},{"c":"c","s":"Mad","t":1.9,"m":400},{"c":"c","s":"Mad","t":1.97,"m":420},{"c":"c","s":"Mad","t":2.05,"m":480},{"c":"c","s":"Mad","t":2.12,"m":500},{"c":"c","s":"Mad","t":2.2,"m":560},{"c":"c","s":"Mad","t":2.27,"m":580},{"c":"c","s":"Mad","t":2.35,"m":640},{"c":"c","s":"Mad","t":2.45,"m":700},{"c":"c","s":"Mad","t":2.55,"m":760},{"c":"c","s":"Mad","t":2.65,"m":810},{"c":"c","s":"Mad","t":2.75,"m":860},{"c":"c","s":"Mad","t":2.85,"m":910},{"c":"c","s":"Mad","t":2.95,"m":955},{"c":"c","s":"Mad","t":3.05,"m":990},{"c":"c","s":"Mad","t":3.08,"m":996},{"c":"c","s":"Mad","t":3.12,"m":950},{"c":"c","s":"Mad","t":3.16,"m":880},{"c":"c","s":"Mad","t":3.24,"m":690},{"c":"c","s":"Mad","t":3.32,"m":500},{"c":"c","s":"Mad","t":3.39,"m":350},{"c":"c","s":"Mad","t":3.47,"m":270},{"c":"c","s":"Mad","t":3.58,"m":205},{"c":"c","s":"Mad","t":3.74,"m":175},{"c":"c","s":"Mad","t":3.85,"m":160},{"c":"c","s":"Mad","t":4.04,"m":115},{"c":"c","s":"Mad","t":4.22,"m":82},{"c":"c","s":"Mad","t":4.6,"m":48},{"c":"c","s":"Mad","t":5,"m":33}
],
"roadLbl": [{"t":3.74,"m":795,"l":"+4gr"},{"t":3.18,"m":404,"l":"0gr"},{"t":2.76,"m":-89,"l":"−4gr"}],
"coupLbl": [{"t":2.33,"m":1254,"l":"1.3s"},{"t":2.73,"m":1143,"l":"2s"},{"t":3.24,"m":1066,"l":"3s"},{"t":3.66,"m":478,"l":"3s"}]
},
"hconcat": [
{
 "width": 435, "height": 343,
 "title": {"text": "Influence of road gradient", "dx": -22, "offset": 0},
 "layer": [
  {"data": {"name": "road"}, "mark": {"type": "line", "strokeWidth": 1.5},
   "encoding": {
    "x": {"field": "t", "type": "quantitative", "scale": {"domain": [0, 5], "nice": false}, "axis": {"title": "Time [s]", "values": [0, 1, 2, 3, 4, 5], "format": "d"}},
    "y": {"field": "m", "type": "quantitative", "scale": {"domain": [-250, 1500], "nice": false}, "axis": {"title": "Moment [Nm]", "values": [-250, 0, 250, 500, 750, 1000, 1250, 1500], "format": "d", "titlePadding": 3}},
    "color": {"field": "s", "type": "nominal", "scale": {"domain": ["Mmot", "Mamb", "Mamr", "Msnc", "Mad", "Mrez"], "range": ["#3b3bf5", "#2f9a2f", "#f53b3b", "#2fc9c9", "#cc3fcc", "#c8c83c"]},
      "legend": {"legendX": 345, "legendY": 4}},
    "detail": {"field": "c"},
    "order": {"value": null}
   }},
  {"data": {"name": "roadLbl"}, "mark": {"type": "text", "fontSize": 13, "color": "#222", "font": "Liberation Sans"},
   "encoding": {"x": {"field": "t", "type": "quantitative"}, "y": {"field": "m", "type": "quantitative"}, "text": {"field": "l"}}}
 ]
},
{
 "width": 435, "height": 343,
 "title": {"text": "Influence of coupling rate", "dx": 33, "offset": 0},
 "layer": [
  {"data": {"name": "coup"}, "mark": {"type": "line", "strokeWidth": 1.5},
   "encoding": {
    "x": {"field": "t", "type": "quantitative", "scale": {"domain": [0, 5], "nice": false}, "axis": {"title": "Time [s]", "values": [0, 1, 2, 3, 4, 5], "format": "d"}},
    "y": {"field": "m", "type": "quantitative", "scale": {"domain": [-200, 1400], "nice": false}, "axis": {"title": "Moment [Nm]", "values": [-200, 0, 200, 400, 600, 800, 1000, 1200, 1400], "format": "d", "titlePadding": 3}},
    "color": {"field": "s", "type": "nominal", "scale": {"domain": ["Mmot", "Mamb", "Mamr", "Msnc", "Mad", "Mrez"], "range": ["#3b3bf5", "#2f9a2f", "#f53b3b", "#2fc9c9", "#cc3fcc", "#c8c83c"]},
      "legend": {"legendX": 346, "legendY": 4}},
    "detail": {"field": "c"},
    "order": {"value": null}
   }},
  {"data": {"name": "coupLbl"}, "mark": {"type": "text", "fontSize": 13, "color": "#222", "font": "Liberation Sans"},
   "encoding": {"x": {"field": "t", "type": "quantitative"}, "y": {"field": "m", "type": "quantitative"}, "text": {"field": "l"}}}
 ]
}
],
"resolve": {"scale": {"color": "independent"}}
}
